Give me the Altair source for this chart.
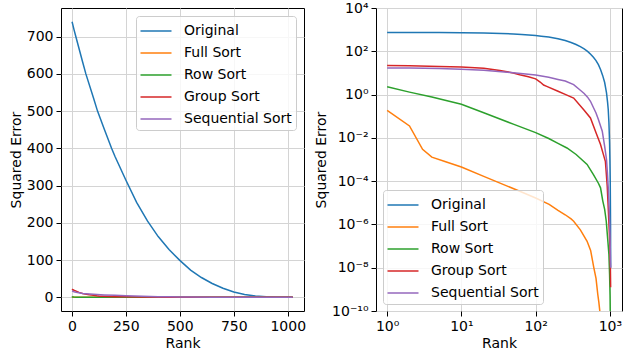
import altair as alt
import pandas as pd

series_names = ["Original", "Full Sort", "Row Sort", "Group Sort", "Sequential Sort"]
series_colors = ["#1f77b4", "#ff7f0e", "#2ca02c", "#d62728", "#9467bd"]

original_rank = [1, 2, 5, 10, 20, 50, 65, 100, 119, 150, 184, 200, 250, 300, 350, 400, 450, 500,
                 550, 600, 650, 700, 750, 800, 850, 900, 930, 950, 970, 990, 1000, 1010, 1020, 1023]
original_err = [740, 738, 731, 719, 697, 632, 600, 536, 500, 452, 400, 378, 315, 255, 205, 163, 128, 99,
                73, 53, 37, 24, 14, 7.5, 3.6, 1.2, 0.45, 0.2, 0.05, 0.006, 1e-3, 1e-4, 1e-6, 1e-8]

full_rank = [1, 2, 3, 4, 6, 10, 20, 40, 60, 100, 152, 200, 250, 300, 325, 400, 493, 550, 607, 650,
             687, 710, 731, 760, 850, 1023]
full_err = [0.186, 0.0355, 0.00295, 0.00129, 8.1e-4, 4.5e-4, 1.66e-4, 6.2e-5, 3.5e-5, 1.66e-5, 8.5e-6,
            4.5e-6, 2.8e-6, 1.8e-6, 1.4e-6, 5.6e-7, 1.66e-7, 6.3e-8, 1e-8, 3.2e-9,
            5.8e-10, 2.5e-10, 1e-10, 1e-11, 1e-12, 1e-13]

row_rank = [1, 2, 4, 10, 20, 50, 100, 150, 200, 264, 351, 493, 600, 700, 748, 800, 850, 893, 940,
            970, 990, 1005, 1015, 1023]
row_err = [2.3, 1.3, 0.77, 0.355, 0.145, 0.043, 0.0174, 0.0093, 0.0056, 0.0034, 0.0017, 5.9e-4, 2e-4,
           8e-5, 4.9e-5, 1.26e-5, 5e-6, 1.4e-6, 1.6e-7, 4e-8, 5e-9, 5e-10, 3e-11, 1e-12]

group_rank = [1, 2, 5, 10, 20, 33, 50, 61, 80, 100, 115, 128, 141, 200, 250, 325, 450, 547, 650, 748,
              800, 870, 920, 945, 980, 1000, 1015, 1023]
group_err = [22, 21.5, 20, 18.7, 16.5, 13, 10, 8.3, 6.7, 5.3, 3.8, 2.75, 2.4, 1.43, 1.02, 0.69, 0.19,
             0.083, 0.0174, 0.0049, 0.0022, 8e-4, 6e-5, 8.3e-6, 5e-7, 1e-7, 1e-8, 1.26e-9]

seq_rank = [1, 2, 5, 10, 20, 50, 100, 150, 200, 250, 325, 400, 450, 500, 547, 650, 700, 789, 850, 900,
            922, 950, 975, 990, 1010, 1023]
seq_err = [17, 16.8, 16, 14.8, 13.2, 10.2, 8.0, 6.3, 5.0, 4.2, 2.9, 1.58, 1.12, 0.76, 0.49, 0.14,
           0.071, 0.0204, 0.004, 0.001, 2.9e-4, 5e-5, 6.3e-6, 1.4e-6, 1e-7, 1e-8]

lin_x_ticks = [0, 250, 500, 750, 1000]
lin_y_ticks = [0, 100, 200, 300, 400, 500, 600, 700]
log_x_exps = [0, 1, 2, 3]
log_y_exps = [-10, -8, -6, -4, -2, 0, 2, 4]

rows = []
for name, ranks, errs in zip(series_names,
                             [original_rank, full_rank, row_rank, group_rank, seq_rank],
                             [original_err, full_err, row_err, group_err, seq_err]):
    for r, e in zip(ranks, errs):
        rows.append({"Method": name, "Rank": r, "Error": e})
df = pd.DataFrame(rows)

SUP = str.maketrans("0123456789-", "⁰¹²³⁴⁵⁶⁷⁸⁹⁻")


def pow_label_expr(exps):
    parts = []
    for e in sorted(exps, reverse=True):
        parts.append(f"datum.value > {10 ** (e - 0.5)!r} ? '10{str(e).translate(SUP)}'")
    return " : ".join(parts) + " : ''"


FONT = "DejaVu Sans"


def legend(orient, offset):
    return alt.Legend(
        title=None, orient=orient, offset=offset,
        symbolType="M-1.55,0H1.55", symbolSize=400, symbolStrokeWidth=1.5,
        labelFont=FONT, labelFontSize=14, labelColor="black", labelOffset=17,
        fillColor="rgba(255,255,255,0.8)", strokeColor="#cccccc", cornerRadius=3,
        padding=4, rowPadding=4, symbolOffset=5,
    )


def color_enc(orient, offset):
    return alt.Color("Method:N",
                     scale=alt.Scale(domain=series_names, range=series_colors),
                     legend=legend(orient, offset))


left = alt.Chart(df).mark_line(strokeWidth=1.5, clip=True).encode(
    x=alt.X("Rank:Q", scale=alt.Scale(domain=[-50.15, 1075.15], nice=False, zero=False),
            axis=alt.Axis(values=lin_x_ticks, title="Rank", format="d")),
    y=alt.Y("Error:Q", scale=alt.Scale(domain=[-37, 777], nice=False, zero=False),
            axis=alt.Axis(values=lin_y_ticks, title="Squared Error", format="d")),
    color=color_enc("top-right", 8),
).properties(width=243, height=303)

right = alt.Chart(df).mark_line(strokeWidth=1.5, clip=True).encode(
    x=alt.X("Rank:Q", scale=alt.Scale(type="log", domain=[0.708, 1455], nice=False),
            axis=alt.Axis(values=[10 ** e for e in log_x_exps], title="Rank",
                          labelExpr=pow_label_expr(log_x_exps))),
    y=alt.Y("Error:Q", scale=alt.Scale(type="log", domain=[1e-10, 1e4], nice=False),
            axis=alt.Axis(values=[10.0 ** e for e in log_y_exps], title="Squared Error",
                          labelExpr=pow_label_expr(log_y_exps))),
    color=color_enc("bottom-left", 7),
).properties(width=246, height=303)

chart = alt.hconcat(left, right, spacing=7).resolve_scale(
    color="independent"
).resolve_legend(
    color="independent"
).properties(
    padding={"left": 8, "top": 0, "right": 0, "bottom": 0}
).configure_view(
    stroke="black", strokeWidth=1
).configure_axis(
    labelFont=FONT, labelFontSize=14, labelColor="black",
    titleFont=FONT, titleFontSize=14, titleFontWeight="normal", titleColor="black",
    tickColor="black", tickSize=5, domain=False,
    gridColor="#d4d4d4", gridWidth=1,
    labelPadding=3, titlePadding=3, labelFlush=False, labelOverlap=False,
)

chart.save("out.html", embed_options={"renderer": "svg", "actions": False})
